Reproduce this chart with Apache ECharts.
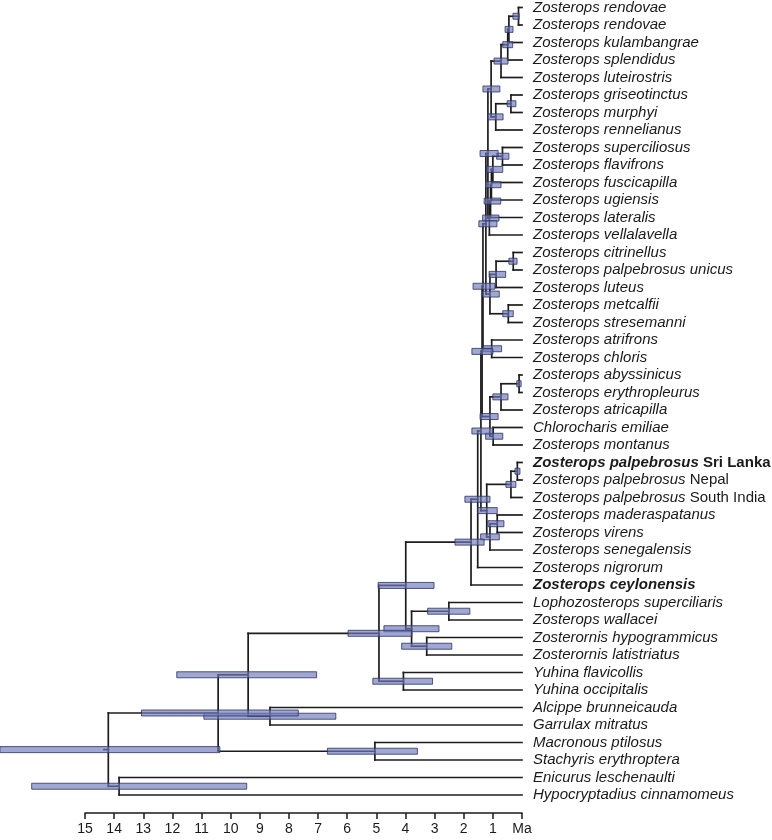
<!DOCTYPE html>
<html><head><meta charset="utf-8">
<script src="https://cdn.jsdelivr.net/npm/echarts@6/dist/echarts.min.js"></script>
<style>html,body{margin:0;padding:0;background:#fff}#c{width:772px;height:840px}</style>
</head><body><div id="c"></div>
<script>
// ---- leaves (top to bottom) ----
const leafNames = [
 'Zosterops rendovae','Zosterops rendovae','Zosterops kulambangrae','Zosterops splendidus','Zosterops luteirostris',
 'Zosterops griseotinctus','Zosterops murphyi','Zosterops rennelianus','Zosterops superciliosus','Zosterops flavifrons',
 'Zosterops fuscicapilla','Zosterops ugiensis','Zosterops lateralis','Zosterops vellalavella','Zosterops citrinellus',
 'Zosterops palpebrosus unicus','Zosterops luteus','Zosterops metcalfii','Zosterops stresemanni','Zosterops atrifrons',
 'Zosterops chloris','Zosterops abyssinicus','Zosterops erythropleurus','Zosterops atricapilla','Chlorocharis emiliae',
 'Zosterops montanus','Zosterops palpebrosus','Zosterops palpebrosus','Zosterops palpebrosus','Zosterops maderaspatanus',
 'Zosterops virens','Zosterops senegalensis','Zosterops nigrorum','Zosterops ceylonensis','Lophozosterops superciliaris',
 'Zosterops wallacei','Zosterornis hypogrammicus','Zosterornis latistriatus','Yuhina flavicollis','Yuhina occipitalis',
 'Alcippe brunneicauda','Garrulax mitratus','Macronous ptilosus','Stachyris erythroptera','Enicurus leschenaulti',
 'Hypocryptadius cinnamomeus'
];
const leafQualifiers = {26:'Sri Lanka', 27:'Nepal', 28:'South India'};
const boldLeaves = [26, 33];

// ---- internal nodes: children (number = leaf index, string = node) ----
const nodeNames    = ['A','B','C','D','E','F','G','H','I','J','K','L','M','O','P','Q','R','N','T','S','V','W','X','Z','Q4','AA','AB','AC','AD','AE','Q3','Q2','RZ','LW','ZZ','LZ','ZL','YU','P1','AG','P2','MS','P3','EH','P4'];
const nodeChildren = [[0,1],['A',2],['B',3],['C',4],[5,6],['E',7],['D','F'],[8,9],['H',10],['I',11],['J',12],['K',13],['G','L'],[14,15],['O',16],[17,18],['P','Q'],['M','R'],[19,20],['N','T'],[21,22],['V',23],[24,25],['W','X'],['S','Z'],[26,27],['AA',28],[29,30],['AC',31],['AB','AD'],['Q4','AE'],['Q3',32],['Q2',33],[34,35],[36,37],['LW','ZZ'],['RZ','LZ'],[38,39],['ZL','YU'],[40,41],['P1','AG'],[42,43],['P2','MS'],[44,45],['P3','EH']];
const nodeAges = [0.12,0.45,0.49,0.72,0.38,0.90,1.06,0.67,1.00,1.05,1.08,1.12,1.17,0.30,0.89,0.47,1.10,1.24,1.04,1.34,0.10,0.72,0.99,1.10,1.37,0.16,0.38,0.85,1.10,1.21,1.41,1.52,1.75,2.51,3.27,3.79,3.99,4.07,4.91,8.65,9.40,5.05,10.43,13.83,14.20];
const hpdLow   = [0.10,0.31,0.32,0.48,0.21,0.65,0.76,0.45,0.66,0.72,0.73,0.79,0.82,0.17,0.56,0.30,0.78,0.86,0.70,0.93,0.03,0.48,0.66,0.82,1.00,0.07,0.21,0.62,0.78,0.85,1.00,1.10,1.30,1.79,2.41,2.85,3.02,3.07,3.78,6.39,7.05,3.59,7.68,9.45,10.37];
const hpdHigh  = [0.31,0.58,0.66,0.96,0.51,1.17,1.34,0.87,1.21,1.25,1.30,1.35,1.44,0.45,1.13,0.66,1.35,1.48,1.34,1.68,0.18,1.00,1.25,1.44,1.72,0.24,0.55,1.17,1.42,1.52,1.72,1.96,2.30,3.24,4.13,4.74,4.94,5.12,5.97,10.92,11.85,6.68,13.06,16.83,17.92];
const rootStem = 0.15;

// ---- build geometry in data units (age, leaf row) ----
const key = c => typeof c === 'number' ? 'L' + c : c;
const yOf = {}, ageOf = {};
leafNames.forEach((n, i) => { yOf['L' + i] = i; ageOf['L' + i] = 0; });
const segments = [], bars = [];
nodeNames.forEach((nm, j) => {
  const [a, b] = nodeChildren[j].map(key);
  const y = (yOf[a] + yOf[b]) / 2, age = nodeAges[j];
  yOf[nm] = y; ageOf[nm] = age;
  segments.push([age, yOf[a], age, yOf[b]]);
  segments.push([age, yOf[a], ageOf[a], yOf[a]]);
  segments.push([age, yOf[b], ageOf[b], yOf[b]]);
  bars.push([hpdLow[j], hpdHigh[j], y]);
});
const rootName = nodeNames[nodeNames.length - 1];
segments.push([ageOf[rootName] + rootStem, yOf[rootName], ageOf[rootName], yOf[rootName]]);

function labelFor(i) {
  const bold = boldLeaves.indexOf(i) >= 0;
  let s = '{' + (bold ? 'bi' : 'i') + '|' + leafNames[i] + '}';
  if (leafQualifiers[i]) s += '{' + (bold ? 'bn' : 'n') + '| ' + leafQualifiers[i] + '}';
  return s;
}

const FONT = '"Liberation Sans", Arial, sans-serif';
const ink = '#1a1a1a';
const chart = echarts.init(document.getElementById('c'), null, {renderer: 'canvas'});
chart.setOption({
  animation: false,
  backgroundColor: '#ffffff',
  grid: {left: 85, right: 250, top: 7.5, bottom: 27},
  xAxis: {
    type: 'value', inverse: true, min: 0, max: 15, interval: 1, position: 'bottom',
    axisLine: {onZero: false, lineStyle: {color: ink, width: 1.5}},
    axisTick: {length: 6, lineStyle: {color: ink, width: 1.5}},
    axisLabel: {formatter: v => v === 0 ? 'Ma' : String(v), color: ink, fontSize: 14, fontFamily: FONT, margin: 9},
    splitLine: {show: false}
  },
  yAxis: {type: 'value', inverse: true, min: 0, max: 46.03, show: false},
  series: [
    {
      type: 'custom', clip: false, data: segments, z: 2,
      renderItem: (params, api) => {
        const p1 = api.coord([api.value(0), api.value(1)]);
        const p2 = api.coord([api.value(2), api.value(3)]);
        return {type: 'line', shape: {x1: p1[0], y1: p1[1], x2: p2[0], y2: p2[1]},
                style: {stroke: '#1c1c1c', lineWidth: 1.7, lineCap: 'square'}};
      }
    },
    {
      type: 'custom', clip: false, data: bars, z: 3,
      renderItem: (params, api) => {
        const a = api.coord([api.value(0), api.value(2)]);
        const b = api.coord([api.value(1), api.value(2)]);
        return {type: 'rect', shape: {x: Math.min(a[0], b[0]), y: a[1] - 3, width: Math.abs(a[0] - b[0]), height: 6},
                style: {fill: 'rgba(110,122,186,0.66)', stroke: 'rgba(45,50,95,0.8)', lineWidth: 1}};
      }
    },
    {
      type: 'custom', clip: false, z: 4, data: leafNames.map((n, i) => [0, i]),
      renderItem: (params, api) => {
        const p = api.coord([api.value(0), api.value(1)]);
        return {type: 'text', x: p[0] + 11, y: p[1],
                style: {text: labelFor(params.dataIndex), verticalAlign: 'middle', align: 'left',
                        fill: ink, fontSize: 15, fontFamily: FONT,
                        rich: {
                          i: {fontStyle: 'italic', fontSize: 15, fill: ink, fontFamily: FONT},
                          n: {fontStyle: 'normal', fontSize: 15, fill: ink, fontFamily: FONT},
                          bi: {fontStyle: 'italic', fontWeight: 'bold', fontSize: 15, fill: ink, fontFamily: FONT},
                          bn: {fontStyle: 'normal', fontWeight: 'bold', fontSize: 15, fill: ink, fontFamily: FONT}
                        }}};
      }
    }
  ]
});
</script></body></html>
